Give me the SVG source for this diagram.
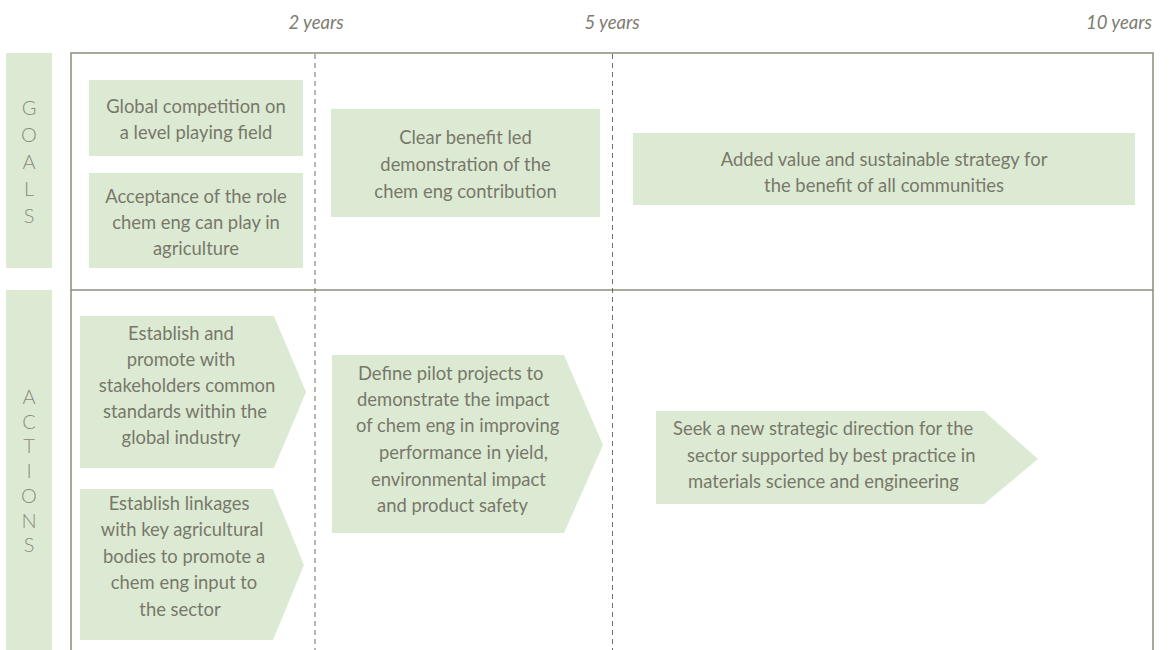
<svg xmlns="http://www.w3.org/2000/svg" width="1170" height="650" viewBox="0 0 1170 650">
<style>
.bg{fill:#ffffff}
.box{fill:#dceAd3}
.frame{fill:none;stroke:#8c8c7c;stroke-width:1.5}
.dash{fill:none;stroke:#6e6e60;stroke-width:1;stroke-dasharray:5,4}
.t{font-family:Lato,"Liberation Sans",sans-serif;font-size:18.4px;fill:#78786a;font-weight:400}
.c{text-anchor:middle}
.yr{font-family:Lato,"Liberation Sans",sans-serif;font-size:18.5px;fill:#7c7c70;font-style:italic;text-anchor:middle}
.lab{font-family:Lato,"Liberation Sans",sans-serif;font-size:20px;fill:#8a8a7c;font-weight:300;text-anchor:middle}
</style>
<rect class="bg" x="0" y="0" width="1170" height="650"/>
<g id="timeline">
<text class="yr" x="316" y="29">2 years</text>
<text class="yr" x="612" y="29">5 years</text>
<text class="yr" x="1119" y="29">10 years</text>
</g>
<g id="frame">
<path class="frame" d="M71,650 V53 H1153 V650"/>
<line class="frame" x1="71" y1="290" x2="1153" y2="290"/>
</g>
<g id="connectors">
<line class="dash" x1="315" y1="54" x2="315" y2="650"/>
<line class="dash" x1="612.5" y1="54" x2="612.5" y2="650"/>
</g>
<g id="goals-label">
<rect class="box" x="6" y="53" width="46" height="215"/>
<text class="lab" x="29" y="115">G</text>
<text class="lab" x="29" y="142">O</text>
<text class="lab" x="29" y="169">A</text>
<text class="lab" x="29" y="196">L</text>
<text class="lab" x="29" y="223">S</text>
</g>
<g id="actions-label">
<rect class="box" x="6" y="290" width="46" height="360"/>
<text class="lab" x="29" y="404">A</text>
<text class="lab" x="29" y="428.7">C</text>
<text class="lab" x="29" y="453.4">T</text>
<text class="lab" x="29" y="478.1">I</text>
<text class="lab" x="29" y="502.8">O</text>
<text class="lab" x="29" y="527.5">N</text>
<text class="lab" x="29" y="552.2">S</text>
</g>
<g id="goal1">
<rect class="box" x="89" y="80" width="214" height="76"/>
<text class="t c" x="196" y="113">Global competition on</text>
<text class="t c" x="196" y="139">a level playing field</text>
</g>
<g id="goal2">
<rect class="box" x="89" y="173" width="214" height="95"/>
<text class="t c" x="196" y="203">Acceptance of the role</text>
<text class="t c" x="196" y="229">chem eng can play in</text>
<text class="t c" x="196" y="255">agriculture</text>
</g>
<g id="goal3">
<rect class="box" x="331" y="109" width="269" height="108"/>
<text class="t c" x="465.5" y="144">Clear benefit led</text>
<text class="t c" x="465.5" y="171">demonstration of the</text>
<text class="t c" x="465.5" y="198">chem eng contribution</text>
</g>
<g id="goal4">
<rect class="box" x="633" y="133" width="502" height="72"/>
<text class="t c" x="884" y="166">Added value and sustainable strategy for</text>
<text class="t c" x="884" y="192">the benefit of all communities</text>
</g>
<g id="action1">
<polygon class="box" points="80,316 274,316 306,392 274,468 80,468"/>
<text class="t c" x="181" y="340">Establish and</text>
<text class="t c" x="181" y="366">promote with</text>
<text class="t c" x="187" y="392">stakeholders common</text>
<text class="t c" x="185" y="418">standards within the</text>
<text class="t c" x="181" y="444">global industry</text>
</g>
<g id="action2">
<polygon class="box" points="80,489 273,489 304,565 273,640 80,640"/>
<text class="t c" x="179" y="510">Establish linkages</text>
<text class="t c" x="182" y="536">with key agricultural</text>
<text class="t c" x="184" y="563">bodies to promote a</text>
<text class="t c" x="184" y="589">chem eng input to</text>
<text class="t c" x="180" y="616">the sector</text>
</g>
<g id="action3">
<polygon class="box" points="332,355 564,355 603,445 564,533 332,533"/>
<text class="t" x="358" y="380">Define pilot projects to</text>
<text class="t" x="357" y="406">demonstrate the impact</text>
<text class="t" x="356" y="432">of chem eng in improving</text>
<text class="t" x="379" y="459">performance in yield,</text>
<text class="t" x="371" y="486">environmental impact</text>
<text class="t" x="377" y="512">and product safety</text>
</g>
<g id="action4">
<polygon class="box" points="656,411 984,411 1038,459 984,504 656,504"/>
<text class="t" x="673" y="435">Seek a new strategic direction for the</text>
<text class="t" x="687" y="462">sector supported by best practice in</text>
<text class="t" x="688" y="488">materials science and engineering</text>
</g>
</svg>
